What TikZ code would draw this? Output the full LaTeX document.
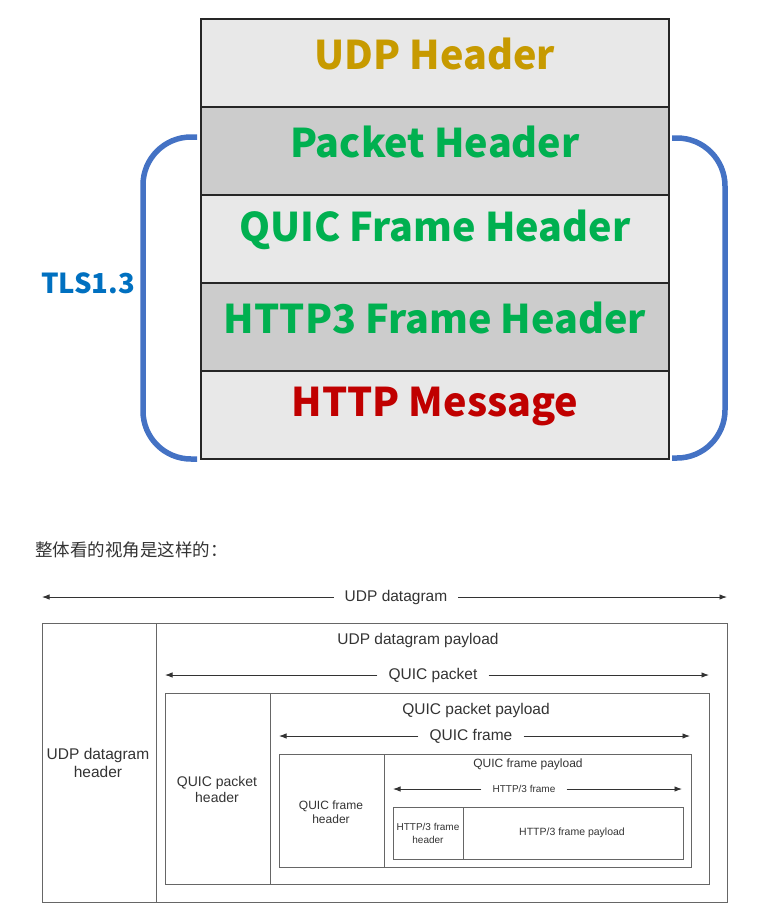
\documentclass[tikz,border=0pt]{standalone}
\usepackage{fontspec}
\setmainfont{Liberation Sans}
\newfontfamily\cjk{Noto Sans CJK SC}
\usetikzlibrary{arrows.meta}
\definecolor{lightrow}{HTML}{E8E8E8}
\definecolor{darkrow}{HTML}{CCCCCC}
\definecolor{udpgold}{HTML}{C79A00}
\definecolor{qgreen}{HTML}{00B050}
\definecolor{hred}{HTML}{C00000}
\definecolor{tlsblue}{HTML}{0070C0}
\definecolor{brblue}{HTML}{4472C4}
\definecolor{boxline}{HTML}{666666}
\definecolor{labtext}{HTML}{333333}
\begin{document}
\begin{tikzpicture}[x=1pt,y=-1pt,
  layer/.style={draw=black!85, line width=1.5pt, minimum width=468pt, minimum height=88pt, inner sep=0pt},
  bigtxt/.style={font=\cjk\bfseries\fontsize{39.5}{41}\selectfont, inner sep=0pt},
  bracket/.style={draw=brblue, line width=5.5pt, rounded corners=48pt},
  cell/.style={draw=boxline, line width=0.9pt, anchor=north west, inner sep=0pt},
  lab/.style={text=labtext, align=center, inner sep=0pt},
  arlab/.style={text=labtext, inner xsep=11pt, inner ysep=0pt},
  dimar/.style={draw=black!80, line width=0.9pt, -{Latex[length=7.5pt,width=5.5pt]}}
]
\useasboundingbox (0,0) rectangle (764,914);

% ---------- top stack ----------
\node[layer, fill=lightrow] (r1) at (435,63) {};
\node[layer, fill=darkrow]  (r2) at (435,151) {};
\node[layer, fill=lightrow] (r3) at (435,239) {};
\node[layer, fill=darkrow]  (r4) at (435,327) {};
\node[layer, fill=lightrow] (r5) at (435,415) {};
\node[bigtxt, text=udpgold] (t1) at (435,54) {UDP Header};
\node[bigtxt, text=qgreen]  (t2) at (435,142) {Packet Header};
\node[bigtxt, text=qgreen]  (t3) at (435,230) {QUIC Frame Header};
\node[bigtxt, text=qgreen]  (t4) at (435,318) {HTTP3 Frame Header};
\node[bigtxt, text=hred]    (t5) at (435,406) {HTTP Message};

\coordinate (lb1) at (197,137);
\coordinate (lb2) at (197,459);
\coordinate (rb1) at (672,138);
\coordinate (rb2) at (672,458);
\draw[bracket] (lb1) -- (143,137) -- (143,459) -- (lb2);
\draw[bracket] (rb1) -- (725,138) -- (725,458) -- (rb2);
\node[font=\cjk\bfseries\fontsize{27.5}{29}\selectfont, text=tlsblue, inner sep=0pt] (tls) at (88,283) {TLS1.3};

% ---------- caption ----------
\node[font=\cjk\fontsize{17.5}{19}\selectfont, text=labtext, anchor=west, inner sep=0pt] (cap) at (35,550) {整体看的视角是这样的：};

% ---------- bottom diagram ----------
% UDP datagram
\coordinate (ua) at (42,597);
\coordinate (ub) at (727,597);
\node[arlab, font=\fontsize{15.5}{18}\selectfont] (ul) at (396,597) {UDP datagram};
\draw[dimar] (ul) -- (ua);
\draw[dimar] (ul) -- (ub);

\node[cell, minimum width=114pt, minimum height=279pt] (udph) at (42,623) {};
\node[cell, minimum width=571pt, minimum height=279pt] (udpp) at (156,623) {};
\node[lab, font=\fontsize{15.5}{18}\selectfont] (udphl) at (98,763) {UDP datagram\\header};
\node[lab, font=\fontsize{15.5}{18}\selectfont] (udppl) at (418,640) {UDP datagram payload};

% QUIC packet
\coordinate (qa) at (165,675);
\coordinate (qb) at (709,675);
\node[arlab, font=\fontsize{15.5}{18}\selectfont] (ql) at (433,675) {QUIC packet};
\draw[dimar] (ql) -- (qa);
\draw[dimar] (ql) -- (qb);

\node[cell, minimum width=105pt, minimum height=191pt] (qph) at (165,693) {};
\node[cell, minimum width=439pt, minimum height=191pt] (qpp) at (270,693) {};
\node[lab, font=\fontsize{14}{16}\selectfont] (qphl) at (217,789) {QUIC packet\\header};
\node[lab, font=\fontsize{15.5}{18}\selectfont] (qppl) at (476,710) {QUIC packet payload};

% QUIC frame
\coordinate (fa) at (279,736);
\coordinate (fb) at (690,736);
\node[arlab, font=\fontsize{15.5}{18}\selectfont] (fl) at (471,736) {QUIC frame};
\draw[dimar] (fl) -- (fa);
\draw[dimar] (fl) -- (fb);

\node[cell, minimum width=105pt, minimum height=113pt] (qfh) at (279,754) {};
\node[cell, minimum width=307pt, minimum height=113pt] (qfp) at (384,754) {};
\node[lab, font=\fontsize{12}{14}\selectfont] (qfhl) at (331,812) {QUIC frame\\header};
\node[lab, font=\fontsize{12}{14}\selectfont] (qfpl) at (528,764) {QUIC frame payload};

% HTTP/3 frame
\coordinate (ha) at (393,789);
\coordinate (hb) at (682,789);
\node[arlab, font=\fontsize{10}{12}\selectfont] (hl) at (524,789) {HTTP/3 frame};
\draw[dimar] (hl) -- (ha);
\draw[dimar] (hl) -- (hb);

\node[cell, minimum width=70pt, minimum height=52pt] (h3h) at (393,807) {};
\node[cell, minimum width=220pt, minimum height=52pt] (h3p) at (463,807) {};
\node[lab, font=\fontsize{10}{13}\selectfont] (h3hl) at (428,833) {HTTP/3 frame\\header};
\node[lab, font=\fontsize{10.5}{13}\selectfont] (h3pl) at (572,833) {HTTP/3 frame payload};
\end{tikzpicture}
\end{document}
